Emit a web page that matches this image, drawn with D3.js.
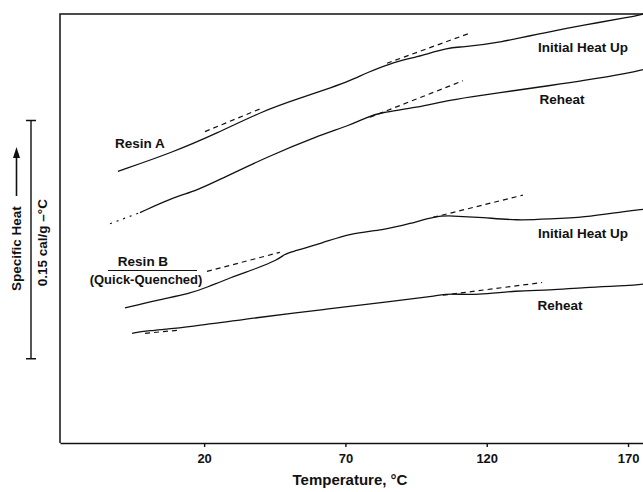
<!DOCTYPE html>
<html>
<head>
<meta charset="utf-8">
<script src="https://cdn.jsdelivr.net/npm/d3@7"></script>
<style>
  body { margin: 0; background: #fff; }
  svg { display: block; font-family: "Liberation Sans", Arial, sans-serif; }
  .lbl { font-weight: bold; font-size: 13.5px; fill: #111; }
  .axis text { font-weight: bold; font-size: 13px; fill: #111; }
  .axis path, .axis line { stroke: #111; stroke-width: 1.4; }
</style>
</head>
<body>
<svg width="643" height="492"></svg>
<script>
/* global d3 */

// temperature (deg C), specific heat (cal/g-deg C, arbitrary offset)
const xTicks = [20, 70, 120, 170];

const resinAHeatUp = [
  [-10.5, 0.421], [9.0, 0.433], [24.6, 0.445], [40.8, 0.459], [53.9, 0.467],
  [65.6, 0.474], [71.6, 0.478], [77.6, 0.483], [85.8, 0.489], [95.3, 0.493],
  [107.0, 0.499], [110.5, 0.499], [124.7, 0.502], [142.4, 0.509], [154.1, 0.513],
  [170.7, 0.518], [175.3, 0.520],
];
const resinAReheatStart = [[-13.3, 0.388], [-2.7, 0.395]];
const resinAReheat = [
  [-2.7, 0.395], [8.3, 0.404], [17.5, 0.409], [24.6, 0.415], [42.2, 0.430],
  [59.9, 0.443], [71.6, 0.450], [77.6, 0.455], [82.2, 0.458], [95.3, 0.461],
  [107.0, 0.466], [118.7, 0.469], [130.7, 0.472], [142.4, 0.475], [154.1, 0.478],
  [170.7, 0.483], [175.3, 0.485],
];
const resinBHeatUp = [
  [-8.0, 0.335], [3.3, 0.340], [15.0, 0.344], [21.0, 0.348], [29.2, 0.354],
  [38.7, 0.360], [45.8, 0.365], [48.6, 0.369], [50.4, 0.370], [62.1, 0.376],
  [71.6, 0.382], [83.3, 0.384], [92.8, 0.388], [102.4, 0.393], [107.0, 0.393],
  [118.7, 0.392], [130.7, 0.390], [142.4, 0.391], [154.1, 0.392], [169.6, 0.396],
  [175.3, 0.397],
];
const resinBReheat = [
  [-5.5, 0.319], [-0.9, 0.3205], [15.0, 0.323], [38.7, 0.329], [62.1, 0.334],
  [85.8, 0.339], [103.5, 0.343], [107.0, 0.344], [116.6, 0.343], [130.7, 0.346],
  [142.4, 0.346], [154.1, 0.348], [170.7, 0.349], [175.3, 0.350],
];

// dashed extrapolations
const tangents = [
  [[20.3, 0.446], [40.8, 0.461]],
  [[84.7, 0.489], [114.1, 0.508]],
  [[78.7, 0.455], [111.6, 0.478]],
  [[21.0, 0.358], [46.8, 0.370]],
  [[101.0, 0.392], [132.8, 0.406]],
  [[-0.9, 0.319], [10.8, 0.321]],
  [[104.5, 0.343], [139.6, 0.351]],
];

const bracketSpan = [0.303, 0.453]; // 0.15 cal/g-deg C

//-------------------------------------------------

const svg = d3.select('svg');
const margin = { top: 14, right: 0, bottom: 49, left: 60 };
const W = 643, H = 492;

const x = d3.scaleLinear().domain([-31, 175.3]).range([margin.left, W - margin.right]);
const y = d3.scaleLinear().domain([0.25, 0.52]).range([H - margin.bottom, margin.top]);

const line = d3.line()
  .x(d => x(d[0]))
  .y(d => y(d[1]))
  .curve(d3.curveBasis);

// frame: left and top edges
svg.append('path')
  .attr('d', `M${x(175.3)},${y(0.52)}H${x(-31)}V${y(0.25)}`)
  .attr('fill', 'none')
  .attr('stroke', '#111')
  .attr('stroke-width', 1.5);

svg.append('g')
  .attr('class', 'axis')
  .attr('transform', `translate(0,${y(0.25)})`)
  .call(d3.axisBottom(x).tickValues(xTicks).tickSizeInner(4).tickSizeOuter(0).tickPadding(7));

svg.append('text')
  .attr('class', 'lbl')
  .attr('x', 350).attr('y', 485)
  .attr('text-anchor', 'middle')
  .style('font-size', '15px')
  .text('Temperature, °C');

// curves
[resinAHeatUp, resinAReheat, resinBHeatUp, resinBReheat].forEach(d => {
  svg.append('path')
    .datum(d)
    .attr('d', line)
    .attr('fill', 'none')
    .attr('stroke', '#111')
    .attr('stroke-width', 1.3);
});

svg.append('path')
  .datum(resinAReheatStart)
  .attr('d', line)
  .attr('fill', 'none')
  .attr('stroke', '#111')
  .attr('stroke-width', 1.2)
  .attr('stroke-dasharray', '2,5');

svg.selectAll('.tangent')
  .data(tangents)
  .enter()
  .append('path')
  .attr('class', 'tangent')
  .attr('d', d3.line().x(d => x(d[0])).y(d => y(d[1])))
  .attr('fill', 'none')
  .attr('stroke', '#111')
  .attr('stroke-width', 1.2)
  .attr('stroke-dasharray', '5,4');

// curve labels
const labels = [
  { text: 'Resin A', x: 115, y: 148, anchor: 'start' },
  { text: 'Initial Heat Up', x: 583, y: 52, anchor: 'middle' },
  { text: 'Reheat', x: 562, y: 104, anchor: 'middle' },
  { text: 'Initial Heat Up', x: 583, y: 238, anchor: 'middle' },
  { text: 'Reheat', x: 560, y: 310, anchor: 'middle' },
  { text: 'Resin B', x: 143, y: 266, anchor: 'middle' },
  { text: '(Quick-Quenched)', x: 146, y: 284, anchor: 'middle', size: '13px' },
];
svg.selectAll('.curve-label')
  .data(labels)
  .enter()
  .append('text')
  .attr('class', 'lbl curve-label')
  .attr('x', d => d.x)
  .attr('y', d => d.y)
  .attr('text-anchor', d => d.anchor)
  .style('font-size', d => d.size || null)
  .text(d => d.text);

svg.append('line')
  .attr('x1', 108).attr('x2', 197)
  .attr('y1', 270.5).attr('y2', 270.5)
  .attr('stroke', '#111')
  .attr('stroke-width', 1.2);

// scale bracket
const bx = 31;
const b0 = y(bracketSpan[0]);
const b1 = y(bracketSpan[1]);
svg.append('path')
  .attr('d', `M${bx - 5},${b1}H${bx + 5}M${bx},${b1}V${b0}M${bx - 5},${b0}H${bx + 5}`)
  .attr('fill', 'none')
  .attr('stroke', '#111')
  .attr('stroke-width', 1.4);

svg.append('text')
  .attr('class', 'lbl')
  .attr('transform', `translate(47,${(b0 + b1) / 2 + 3}) rotate(-90)`)
  .attr('text-anchor', 'middle')
  .text('0.15 cal/g –°C');

svg.append('text')
  .attr('class', 'lbl')
  .attr('transform', 'translate(21,291) rotate(-90)')
  .attr('text-anchor', 'start')
  .text('Specific Heat');

// arrow
svg.append('path')
  .attr('d', 'M16.5,196V156')
  .attr('stroke', '#111')
  .attr('stroke-width', 1.6);
svg.append('path')
  .attr('d', 'M16.5,147L13,158H20Z')
  .attr('fill', '#111');
</script>
</body>
</html>
